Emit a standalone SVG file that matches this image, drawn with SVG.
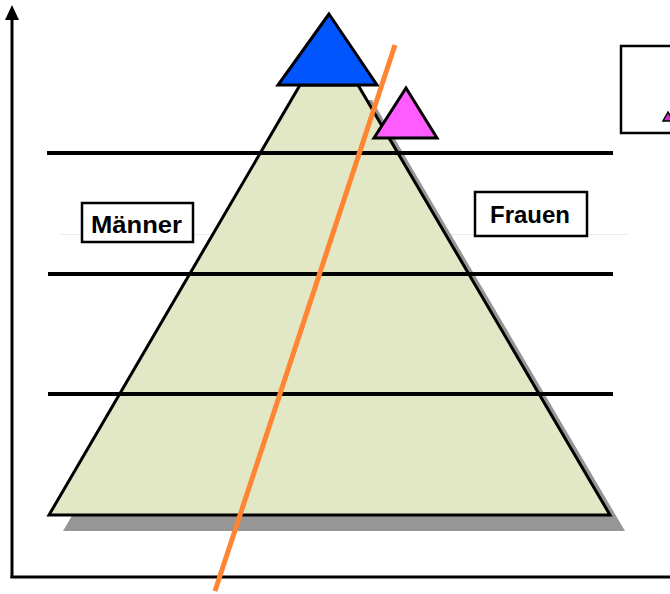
<svg xmlns="http://www.w3.org/2000/svg" width="670" height="594" viewBox="0 0 670 594">
<style>
.lbl{font-family:"Liberation Sans",Arial,sans-serif;font-weight:bold;font-size:24px;fill:#000}
.box{fill:#fff;stroke:#000;stroke-width:2.5}
.hl{stroke:#000;stroke-width:4}
.ax{stroke:#000;stroke-width:3}
</style>
<rect width="670" height="594" fill="#fff"/>
<line x1="60" y1="234.5" x2="628" y2="234.5" stroke="#ebebeb" stroke-width="1"/>
<g id="axes">
<line class="ax" x1="12" y1="578" x2="12" y2="18"/>
<polygon points="12,5 5,20 19,20" fill="#000"/>
<line class="ax" x1="10.5" y1="577" x2="670" y2="577"/>
</g>
<g id="pyramid">
<polygon points="314,100 372,100 625,531 63,531" fill="#969696"/>
<polygon points="300,85 358,85 610,515 49,515" fill="#E2E8C5" stroke="#000" stroke-width="3" stroke-linejoin="miter"/>
</g>
<g id="levels">
<line class="hl" x1="47" y1="153" x2="613" y2="153"/>
<line class="hl" x1="48" y1="274" x2="613" y2="274"/>
<line class="hl" x1="48" y1="394" x2="613" y2="394"/>
</g>
<g id="blue-triangle">
<polygon points="329,14 278,85 377,85" fill="#0055FF" stroke="#000" stroke-width="3"/>
</g>
<g id="pink-triangle">
<polygon points="406,88 374,138 437,138" fill="#FF5CFF" stroke="#000" stroke-width="3"/>
</g>
<g id="maenner">
<rect class="box" x="82" y="203" width="111" height="39"/>
<text class="lbl" x="136.5" y="232.5" text-anchor="middle" textLength="91" lengthAdjust="spacingAndGlyphs">Männer</text>
</g>
<g id="frauen">
<rect class="box" x="475" y="192" width="112" height="44"/>
<text class="lbl" x="530" y="223" text-anchor="middle" textLength="80" lengthAdjust="spacingAndGlyphs">Frauen</text>
</g>
<g id="legend">
<rect class="box" x="621" y="46" width="60" height="87"/>
<polygon points="668,112 663,121 673,121" fill="#CC33CC" stroke="#000" stroke-width="1.5"/>
</g>
<g id="connectors">
<line x1="395" y1="45" x2="215" y2="591" stroke="#FF8533" stroke-width="5"/>
</g>
</svg>
